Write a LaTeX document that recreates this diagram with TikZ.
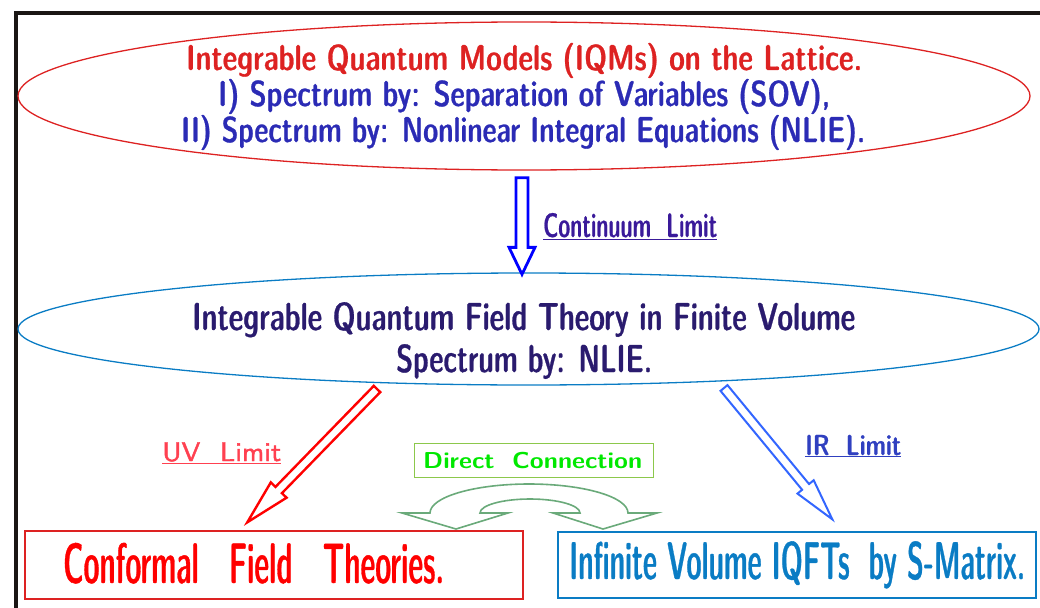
\documentclass[tikz,border=0pt]{standalone}
\usepackage{fontspec}
\usepackage{graphicx}
\IfFontExistsTF{lmsansdemicond10-regular.otf}
  {\newfontfamily\dcfont{lmsansdemicond10-regular.otf}[FakeBold=0.8]}
  {\IfFontExistsTF{lmsans10-regular.otf}
     {\newfontfamily\dcfont{lmsans10-regular.otf}[FakeBold=2.4]}
     {\newcommand\dcfont{\sffamily\bfseries}}}
\IfFontExistsTF{lmsans10-regular.otf}
  {\newfontfamily\sbfont{lmsans10-regular.otf}[FakeBold=1.6]}
  {\newcommand\sbfont{\sffamily}}
\usetikzlibrary{calc,shapes.geometric}
\definecolor{redE}{HTML}{DD2222}
\definecolor{blueT}{HTML}{2B2BB5}
\definecolor{tealE}{HTML}{0A7CC4}
\definecolor{navyT}{HTML}{2A1B6E}
\definecolor{purpT}{HTML}{3A1A9A}
\definecolor{uvT}{HTML}{FF4050}
\definecolor{irT}{HTML}{3040C0}
\definecolor{arrB}{HTML}{0000FF}
\definecolor{arrR}{HTML}{FF0000}
\definecolor{arrI}{HTML}{3366FF}
\definecolor{dcT}{HTML}{00E800}
\definecolor{dcB}{HTML}{8CC84B}
\definecolor{arrG}{HTML}{6AAA7A}
\definecolor{frameC}{HTML}{1A1614}
\newcommand\fitw[2]{\resizebox{#1}{\height}{#2}}
\newcommand\HArrow[6]{%
  \coordinate (hh) at ($(#3)!#6!(#2)$);
  \draw[#1] ($(#2)!#4!90:(#3)$) -- ($(hh)!#4!-90:(#2)$) -- ($(hh)!#5!-90:(#2)$) -- (#3)
    -- ($(hh)!#5!90:(#2)$) -- ($(hh)!#4!90:(#2)$) -- ($(#2)!#4!-90:(#3)$) -- cycle;}
\tikzset{
  ell/.style={ellipse, draw, line width=1.3pt, inner sep=0pt},
  bigbox/.style={rectangle, draw, line width=1.4pt, inner sep=0pt},
  harrow/.style={line join=miter},
  txt/.style={inner sep=0pt, anchor=base west}
}
\begin{document}
\begin{tikzpicture}[x=1pt,y=-1pt]
\useasboundingbox (0,0) rectangle (1040,607);
% frame
\draw[frameC, line width=3.5pt] (16,610) -- (16,13) -- (1045,13);
% ellipses
\node[ell, redE, minimum width=1012pt, minimum height=148pt] (e1) at (524,96) {};
\node[ell, tealE, minimum width=1021pt, minimum height=112pt] (e2) at (528.5,329) {};
% top ellipse text
\node[txt, text=redE, font=\dcfont\fontsize{36}{36}\selectfont] (t1a) at (186,70)
  {\fitw{676pt}{Integrable Quantum Models (IQMs) on the Lattice.}};
\node[txt, text=blueT, font=\dcfont\fontsize{36}{36}\selectfont] (t1b) at (218,106)
  {\fitw{612pt}{I) Spectrum by: Separation of Variables (SOV),}};
\node[txt, text=blueT, font=\dcfont\fontsize{36}{36}\selectfont] (t1c) at (181,142)
  {\fitw{684pt}{II) Spectrum by: Nonlinear Integral Equations (NLIE).}};
% middle ellipse text
\node[txt, text=navyT, font=\dcfont\fontsize{39}{42}\selectfont] (t2a) at (192,330)
  {\fitw{663pt}{Integrable Quantum Field Theory in Finite Volume}};
\node[txt, text=navyT, font=\dcfont\fontsize{39}{42}\selectfont] (t2b) at (396,372)
  {\fitw{256pt}{Spectrum by: NLIE.}};
% bottom boxes
\node[bigbox, redE, minimum width=498pt, minimum height=68pt] (cft) at (274,565) {};
\node[txt, text=arrR, font=\dcfont\fontsize{57}{60}\selectfont] (cftt) at (63,583)
  {\fitw{381pt}{Conformal\hspace{0.9em}Field\hspace{0.9em}Theories.}};
\node[bigbox, tealE, minimum width=478pt, minimum height=66pt] (ivb) at (797,565) {};
\node[txt, text=tealE, font=\dcfont\fontsize{53}{56}\selectfont] (ivt) at (569,579)
  {\fitw{456pt}{Infinite Volume IQFTs\hspace{0.6em}by S-Matrix.}};
% labels
\node[txt, text=purpT, font=\dcfont\fontsize{34}{36}\selectfont] (cl) at (543,237)
  {\fitw{174pt}{\underline{Continuum\hspace{0.6em}Limit}}};
\node[txt, text=uvT, font=\sbfont\fontsize{27}{30}\selectfont] (uvl) at (162,461)
  {\fitw{119pt}{\underline{UV\hspace{0.7em}Limit}}};
\node[txt, text=irT, font=\dcfont\fontsize{29}{32}\selectfont] (irl) at (805,455)
  {\fitw{96pt}{\underline{IR\hspace{0.6em}Limit}}};
\node[draw=dcB, line width=1pt, minimum width=239pt, minimum height=34pt, inner sep=0pt] (dc) at (533.5,460) {};
\node[txt, text=dcT, font=\sffamily\bfseries\fontsize{23}{26}\selectfont] (dct) at (423,468)
  {\fitw{219pt}{Direct\hspace{0.7em}Connection}};
% arrow end points
\coordinate (c1) at ($(e1.south)+(-2,7)$);
\coordinate (c2) at ($(e2.north)+(-6.5,2)$);
\coordinate (u1) at ($(e2.center)+(-151.5,60)$);
\coordinate (u2) at ($(cft.north west)+(223,-8)$);
\coordinate (i1) at ($(e2.center)+(195.5,59)$);
\coordinate (i2) at ($(ivb.north west)+(275,-12)$);
\HArrow{harrow, draw=arrB, fill=white, line width=2.8pt}{c1}{c2}{6pt}{13pt}{27pt}
\HArrow{harrow, draw=arrR, fill=white, line width=2.4pt}{u1}{u2}{4.5pt}{11pt}{45pt}
\HArrow{harrow, draw=arrI, fill=white, line width=2pt}{i1}{i2}{4.5pt}{10.5pt}{42pt}
% green double arrow between the two bottom boxes
\draw[draw=arrG, fill=white, line width=1.6pt, line join=miter]
  (402,513) -- (456,529) -- (508,513) -- (480,513)
  arc[start angle=180, end angle=360, x radius=50, y radius=14] -- (553,513)
  -- (603,529) -- (657,513) -- (628,513)
  arc[start angle=0, end angle=-180, x radius=99, y radius=29] -- cycle;
\end{tikzpicture}
\end{document}
